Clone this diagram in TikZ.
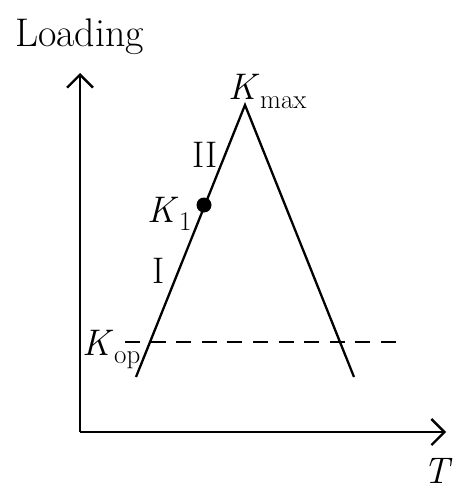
\documentclass[tikz,border=0pt]{standalone}
\usepackage{fontspec}
\usetikzlibrary{arrows.meta}
\newcommand\mysubK[1]{\textit{K}\kern0.02em\raisebox{-0.22em}{\fontsize{27}{32}\selectfont #1}}
\begin{document}
\begin{tikzpicture}[x=1pt,y=-1pt,
  axis/.style={line width=2.3pt,-{Straight Barb[length=13pt,width=26pt,line width=2.3pt]}},
  curve/.style={line width=2.3pt},
  lbl/.style={inner sep=0pt,font=\fontsize{37}{44}\selectfont},
  dashline/.style={line width=2.3pt,dash pattern=on 15pt off 10.6pt}]
\useasboundingbox (0,0) rectangle (464,500);
% axes
\coordinate (O) at (80,432);
\coordinate (Ytop) at (80,73);
\coordinate (Xend) at (446,432);
\draw[axis] (O) -- (Ytop);
\draw[axis] (O) -- (Xend);
% triangle
\coordinate (L) at (136,377);
\coordinate (P) at (245,105);
\coordinate (R) at (354,377);
\draw[curve,line join=miter] (L) -- (P) -- (R);
% dashed K_op level
\coordinate (D1) at (125,342);
\coordinate (D2) at (396,342);
\draw[dashline] (D1) -- (D2);
% K1 point
\fill (204,205) circle (7.5pt) node (k1pt) {};
% labels
\node[lbl,anchor=base west,font=\fontsize{40}{48}\selectfont] (loading) at (15,47) {Loading};
\node[lbl,anchor=base west] (kmax) at (228,100) {\mysubK{max}};
\node[lbl,anchor=base west] (II) at (192,167) {II};
\node[lbl,anchor=base west] (k1) at (147,222) {\mysubK{1}};
\node[lbl,anchor=base west] (I) at (152,283) {I};
\node[lbl,anchor=base west] (kop) at (82,355) {\mysubK{op}};
\node[lbl,anchor=base west] (T) at (423,483) {\textit{T}};
\end{tikzpicture}
\end{document}
